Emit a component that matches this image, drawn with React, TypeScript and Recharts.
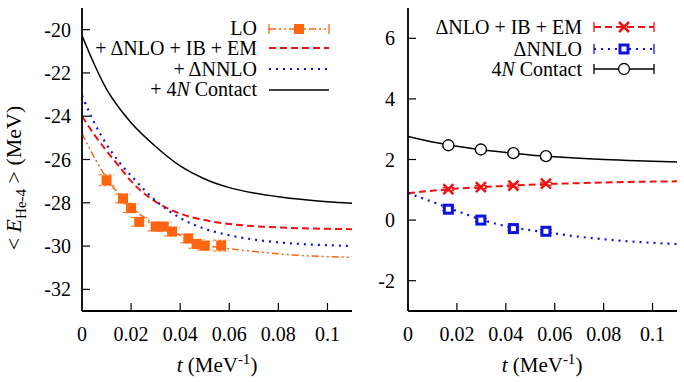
import { ComposedChart, Line, Scatter, XAxis, YAxis, ErrorBar } from 'recharts';

const FONT = '"Liberation Serif", "DejaVu Serif", serif';

// left panel: smooth curves (t in MeV^-1, energy in MeV)
const tLeft = [0, 0.005, 0.01, 0.015, 0.02, 0.03, 0.04, 0.05, 0.06, 0.07, 0.08, 0.09, 0.1, 0.11];
const loCurve = [-24.8, -25.9, -26.85, -27.6, -28.2, -29.0, -29.5, -29.95, -30.12, -30.25, -30.36, -30.44, -30.49, -30.52];
const nloCurve = [-24.0, -24.85, -25.6, -26.3, -27.0, -27.95, -28.5, -28.8, -28.98, -29.08, -29.14, -29.18, -29.2, -29.22];
const nnloCurve = [-23.05, -24.3, -25.3, -26.1, -26.75, -27.9, -28.7, -29.2, -29.5, -29.7, -29.83, -29.91, -29.96, -30.0];
const contactCurve = [-20.27, -21.6, -22.75, -23.6, -24.3, -25.4, -26.3, -26.9, -27.3, -27.55, -27.72, -27.85, -27.95, -28.02];

// LO lattice points
const loT = [0.01, 0.0167, 0.02, 0.0233, 0.03, 0.0333, 0.0367, 0.0433, 0.0467, 0.05, 0.0567];
const loE = [-26.96, -27.8, -28.25, -28.88, -29.1, -29.1, -29.33, -29.65, -29.9, -29.98, -29.98];
const loErr = [0.25, 0.2, 0.2, 0.2, 0.2, 0.2, 0.2, 0.2, 0.2, 0.2, 0.25];

// right panel: corrections
const tRight = [0, 0.01, 0.02, 0.03, 0.04, 0.05, 0.06, 0.07, 0.08, 0.09, 0.1, 0.11];
const dNloCurve = [0.89, 0.97, 1.04, 1.09, 1.13, 1.17, 1.2, 1.22, 1.24, 1.26, 1.27, 1.28];
const dNnloCurve = [0.89, 0.6, 0.3, 0.02, -0.2, -0.33, -0.44, -0.55, -0.63, -0.7, -0.75, -0.79];
const dContactCurve = [2.76, 2.58, 2.44, 2.32, 2.23, 2.15, 2.09, 2.04, 2.0, 1.97, 1.94, 1.92];

const ptT = [0.0165, 0.0298, 0.0431, 0.0564];
const dNloPts = [1.02, 1.09, 1.14, 1.2];
const dNnloPts = [0.36, 0.0, -0.28, -0.37];
const dContactPts = [2.47, 2.33, 2.21, 2.11];
const ptErr = [0.05, 0.05, 0.05, 0.05];

const xTicks = [0, 0.02, 0.04, 0.06, 0.08, 0.1];
const leftTicks = [-32, -30, -28, -26, -24, -22, -20];
const rightTicks = [-2, 0, 2, 4, 6];

const ORANGE = '#ff6410';
const RED = '#ee1111';
const BLUE = '#1111dd';

const zipCurve = (ts: number[], es: number[]) => ts.map((t, i) => ({ t, E: es[i] }));
const zipPts = (ts: number[], es: number[], err: number[]) => ts.map((t, i) => ({ t, E: es[i], err: err[i] }));

const tickStyle = { fill: '#000', fontSize: 20, fontFamily: FONT };
const axisLine = { stroke: '#000', strokeWidth: 1.8 };
const tickLine = { stroke: '#000', strokeWidth: 1.2 };

const Square = (p: any) => <rect x={p.cx - 5} y={p.cy - 5} width={10} height={10} fill={ORANGE} />;
const OpenSquare = (p: any) => (
  <rect x={p.cx - 4} y={p.cy - 4} width={8} height={8} fill="#fff" stroke={BLUE} strokeWidth={3} />
);
const Cross = (p: any) => (
  <path d={`M${p.cx - 5},${p.cy - 5}L${p.cx + 5},${p.cy + 5}M${p.cx - 5},${p.cy + 5}L${p.cx + 5},${p.cy - 5}`} stroke={RED} strokeWidth={2.5} />
);
const Circle = (p: any) => <circle cx={p.cx} cy={p.cy} r={5.5} fill="#fff" stroke="#000" strokeWidth={1.3} />;

function Axes({ yTicks, yDomain, yWidth, yMargin }: { yTicks: number[]; yDomain: number[]; yWidth: number; yMargin: number }) {
  return [
    <XAxis key="xb" xAxisId={0} dataKey="t" type="number" domain={[0, 0.11]} ticks={xTicks} interval={0}
      allowDataOverflow height={71} tick={tickStyle} tickSize={-8} tickMargin={24} axisLine={axisLine} tickLine={tickLine}
      tickFormatter={(v: number) => String(v)} />,
    <XAxis key="xt" xAxisId="top" orientation="top" dataKey="t" type="number" domain={[0, 0.11]} ticks={xTicks} interval={0}
      allowDataOverflow height={0} tickSize={-8} axisLine={axisLine} tickLine={tickLine} tick={false as any} />,
    <YAxis key="yl" yAxisId={0} type="number" domain={yDomain} ticks={yTicks} interval={0} allowDataOverflow width={yWidth}
      tick={tickStyle} tickSize={-8} tickMargin={yMargin} axisLine={axisLine} tickLine={tickLine} />,
    <YAxis key="yr" yAxisId="right" orientation="right" type="number" domain={yDomain} ticks={yTicks} interval={0}
      allowDataOverflow width={0} tickSize={-8} axisLine={axisLine} tickLine={tickLine} tick={false as any} />,
  ];
}

function LegendSample({ x, y, color, dash, width = 1.5, marker, caps }: any) {
  return (
    <g>
      <line x1={x} x2={x + 60} y1={y} y2={y} stroke={color} strokeWidth={width} strokeDasharray={dash} />
      {caps && <line x1={x} x2={x} y1={y - 5} y2={y + 5} stroke={color} strokeWidth={1.3} />}
      {caps && <line x1={x + 60} x2={x + 60} y1={y - 5} y2={y + 5} stroke={color} strokeWidth={1.3} />}
      {marker && marker({ cx: x + 30, cy: y })}
    </g>
  );
}

export default function App() {
  return (
    <div style={{ position: 'absolute', left: 0, top: 0, width: 684, height: 382, background: '#fff', fontFamily: FONT }}>
      <div style={{ position: 'absolute', left: 0, top: 0 }}>
        <ComposedChart width={360} height={382} margin={{ top: 8, right: 8, left: 0, bottom: 0 }}>
          {Axes({ yTicks: leftTicks, yDomain: [-33, -19], yWidth: 82, yMargin: 19 })}
          <Line data={zipCurve(tLeft, loCurve)} dataKey="E" type="monotone" stroke={ORANGE} strokeWidth={1.5}
            strokeDasharray="7 3 2 3 2 3" dot={false} isAnimationActive={false} />
          <Line data={zipCurve(tLeft, nloCurve)} dataKey="E" type="monotone" stroke={RED} strokeWidth={2}
            strokeDasharray="7 4" dot={false} isAnimationActive={false} />
          <Line data={zipCurve(tLeft, nnloCurve)} dataKey="E" type="monotone" stroke={BLUE} strokeWidth={2.2}
            strokeDasharray="2 5" dot={false} isAnimationActive={false} />
          <Line data={zipCurve(tLeft, contactCurve)} dataKey="E" type="monotone" stroke="#000" strokeWidth={1.5}
            dot={false} isAnimationActive={false} />
          <Scatter data={zipPts(loT, loE, loErr)} dataKey="E" shape={Square} isAnimationActive={false}>
            <ErrorBar dataKey="err" direction="y" width={8} stroke={ORANGE} strokeWidth={1} strokeDasharray="3 2" />
          </Scatter>
        </ComposedChart>
      </div>
      <div style={{ position: 'absolute', left: 360, top: 0 }}>
        <ComposedChart width={324} height={382} margin={{ top: 8, right: 7, left: 0, bottom: 0 }}>
          {Axes({ yTicks: rightTicks, yDomain: [-3, 7], yWidth: 48, yMargin: 21 })}
          <Line data={zipCurve(tRight, dContactCurve)} dataKey="E" type="monotone" stroke="#000" strokeWidth={1.5}
            dot={false} isAnimationActive={false} />
          <Line data={zipCurve(tRight, dNloCurve)} dataKey="E" type="monotone" stroke={RED} strokeWidth={2}
            strokeDasharray="7 4" dot={false} isAnimationActive={false} />
          <Line data={zipCurve(tRight, dNnloCurve)} dataKey="E" type="monotone" stroke={BLUE} strokeWidth={2.2}
            strokeDasharray="2 5" dot={false} isAnimationActive={false} />
          <Scatter data={zipPts(ptT, dContactPts, ptErr)} dataKey="E" shape={Circle} isAnimationActive={false}>
            <ErrorBar dataKey="err" direction="y" width={6} stroke="#000" strokeWidth={1} />
          </Scatter>
          <Scatter data={zipPts(ptT, dNloPts, ptErr)} dataKey="E" shape={Cross} isAnimationActive={false}>
            <ErrorBar dataKey="err" direction="y" width={6} stroke={RED} strokeWidth={1} />
          </Scatter>
          <Scatter data={zipPts(ptT, dNnloPts, ptErr)} dataKey="E" shape={OpenSquare} isAnimationActive={false}>
            <ErrorBar dataKey="err" direction="y" width={6} stroke={BLUE} strokeWidth={1} />
          </Scatter>
        </ComposedChart>
      </div>
      <svg width={684} height={382} fontFamily={FONT} fontSize={20}
        style={{ position: 'absolute', left: 0, top: 0, pointerEvents: 'none' }}>
        {/* axis titles */}
        <text transform="translate(21,178) rotate(-90)" textAnchor="middle" fontSize={22}>
          {'< '}<tspan fontStyle="italic">E</tspan><tspan fontSize={15} dy={5}>He-4</tspan><tspan dy={-5}>{' > (MeV)'}</tspan>
        </text>
        {[217, 542].map((cx) => (
          <text key={cx} x={cx} y={372} textAnchor="middle" fontSize={21}>
            <tspan fontStyle="italic">t</tspan>{' (MeV'}<tspan fontSize={15} dy={-8}>-1</tspan><tspan dy={8}>)</tspan>
          </text>
        ))}
        {/* legends */}
        <g textAnchor="end">
          <text x={257} y={35}>LO</text>
          <text x={257} y={55}>+ ΔNLO + IB + EM</text>
          <text x={257} y={76}>+ ΔNNLO</text>
          <text x={257} y={96}>+ 4<tspan fontStyle="italic">N</tspan> Contact</text>
          <text x={582} y={34}>ΔNLO + IB + EM</text>
          <text x={582} y={56}>ΔNNLO</text>
          <text x={582} y={76}>4<tspan fontStyle="italic">N</tspan> Contact</text>
        </g>
        <LegendSample x={269} y={29} color={ORANGE} dash="7 3 2 3 2 3" caps marker={Square} />
        <LegendSample x={269} y={48} color={RED} dash="7 4" width={2} />
        <LegendSample x={269} y={69} color={BLUE} dash="2 5" width={2.2} />
        <LegendSample x={269} y={90} color="#000" />
        <LegendSample x={594} y={27} color={RED} dash="7 4" width={2} caps marker={Cross} />
        <LegendSample x={594} y={49} color={BLUE} dash="2 5" width={2.2} caps marker={OpenSquare} />
        <LegendSample x={594} y={69} color="#000" caps marker={Circle} />
      </svg>
    </div>
  );
}
